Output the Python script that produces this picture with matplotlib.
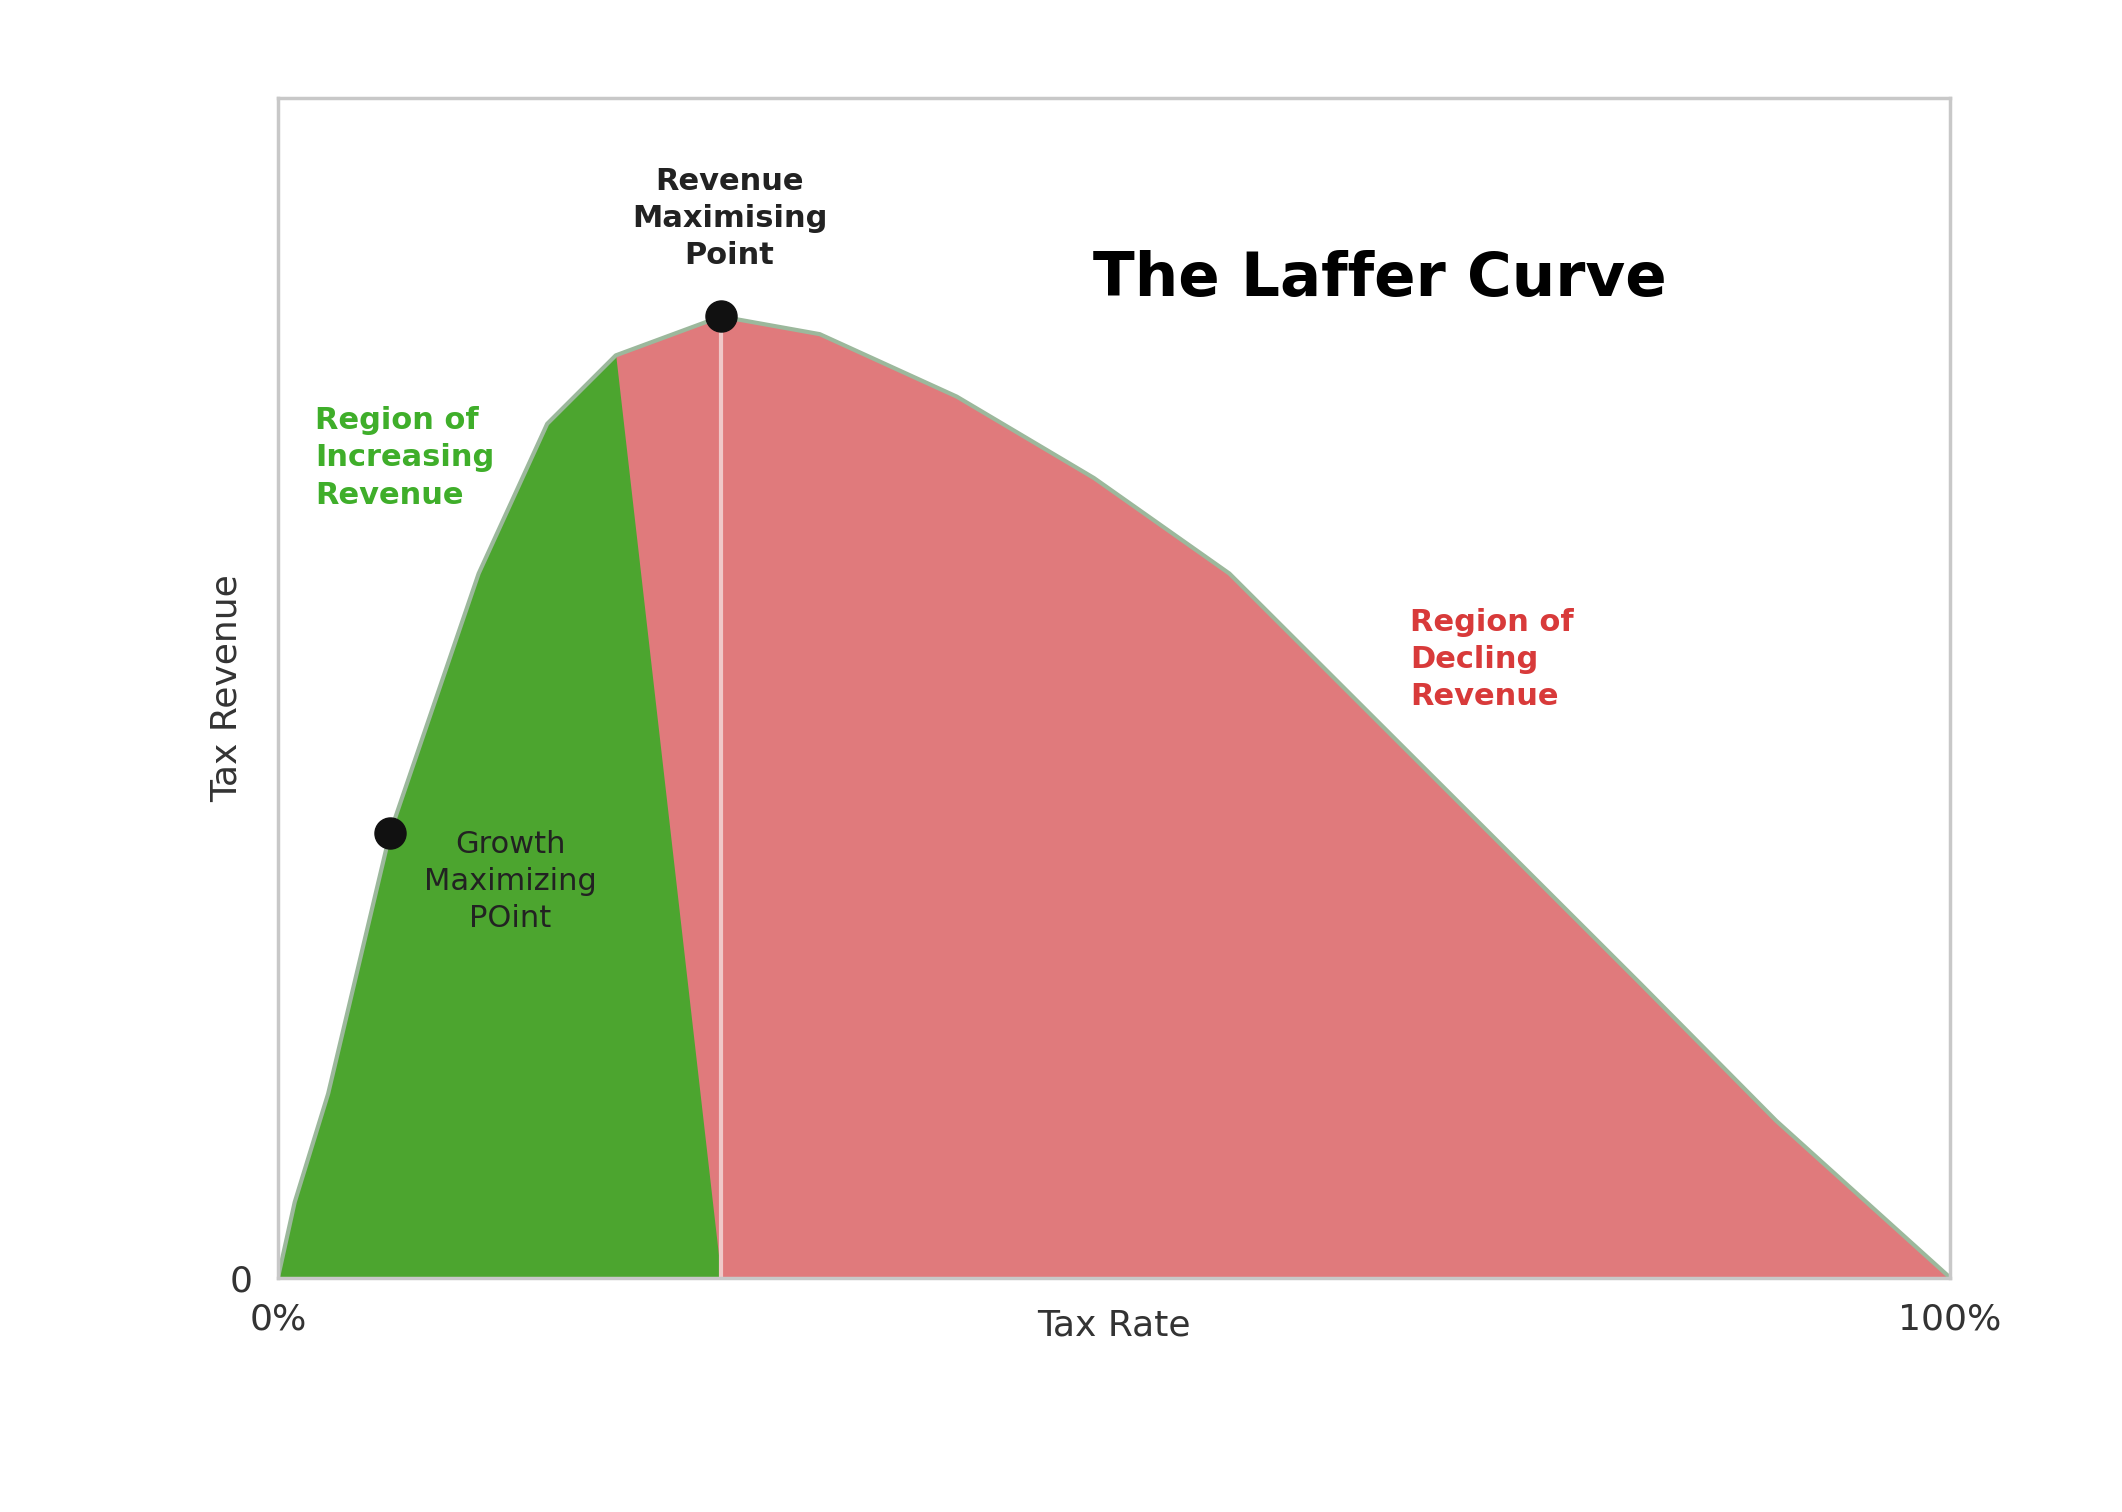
import matplotlib
matplotlib.use("Agg")
import matplotlib.pyplot as plt
import numpy as np

tax_rate = [0, 1.0, 3.0, 6.7, 12.0, 16.1, 20.2, 26.5, 32.4, 40.6, 48.8, 56.9, 65.1, 73.3, 81.5, 89.6, 100]
revenue = [0, 6.4, 15.6, 37.7, 59.7, 72.4, 78.2, 81.5, 80.0, 74.7, 67.8, 59.7, 48.1, 36.5, 24.9, 13.3, 0]
peak_rate, peak_rev = 26.5, 81.5
growth_rate, growth_rev = 6.7, 37.7
x_ticks = [0, 100]
x_ticklabels = ["0%", "100%"]

x = np.array(tax_rate); y = np.array(revenue)
fig = plt.figure(figsize=(21.22, 15.12), dpi=100)
ax = fig.add_axes([0.131, 0.155, 0.788, 0.78])
ax.set_xlim(0, 100); ax.set_ylim(0, 100)
ax.fill_between(x, y, where=x <= peak_rate, color="#4ca52f", interpolate=True, lw=0)
ax.fill_between(x, y, where=x >= peak_rate, color="#e07a7c", interpolate=True, lw=0)
ax.plot(x, y, color="#9cb89c", lw=3)
ax.plot([peak_rate, peak_rate], [0, peak_rev], color="#f0c8c8", lw=3)
ax.scatter([peak_rate, growth_rate], [peak_rev, growth_rev], s=500, color="#111111", zorder=5)
for s in ax.spines.values():
    s.set_color("#c8c8c8"); s.set_linewidth(2.5)
ax.set_xticks(x_ticks); ax.set_xticklabels(x_ticklabels)
ax.set_yticks([0]); ax.set_yticklabels(["0"])
ax.tick_params(length=0, labelsize=26, colors="#333333", pad=18)
ax.set_xlabel("Tax Rate", fontsize=26, color="#333333", labelpad=-20)
ax.set_ylabel("Tax Revenue", fontsize=26, color="#333333", labelpad=-10)
ax.text(65.9, 84.6, "The Laffer Curve", fontsize=44, fontweight="bold", ha="center", va="center")
ax.text(27.0, 89.8, "Revenue\nMaximising\nPoint", fontsize=22, fontweight="bold", ha="center", va="center", linespacing=1.35, color="#222222")
ax.text(2.2, 69.5, "Region of\nIncreasing\nRevenue", fontsize=22, fontweight="bold", ha="left", va="center", linespacing=1.35, color="#3fae2a")
ax.text(67.7, 52.4, "Region of\nDecling\nRevenue", fontsize=22, fontweight="bold", ha="left", va="center", linespacing=1.35, color="#d83a3a")
ax.text(13.9, 33.6, "Growth\nMaximizing\nPOint", fontsize=22, ha="center", va="center", linespacing=1.35, color="#222222")
fig.savefig("out.png", dpi=100, facecolor="white")
